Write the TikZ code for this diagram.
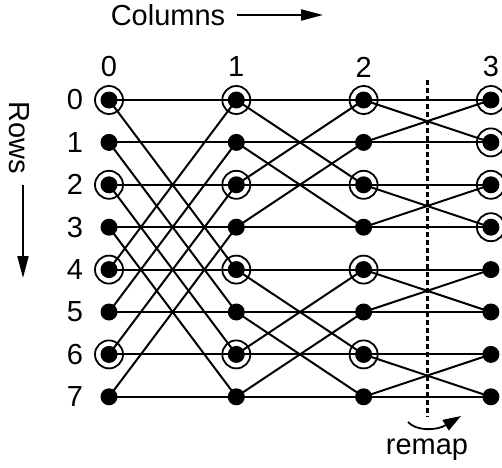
\documentclass[tikz,border=0pt]{standalone}
\usepackage{fontspec}
\setmainfont{Liberation Sans}
\usetikzlibrary{arrows.meta,backgrounds}
\begin{document}
\begin{tikzpicture}[x=1pt,y=1pt,
  dotnode/.style={circle,fill=black,inner sep=0pt,minimum size=17pt},
  ringnode/.style={circle,draw=black,line width=1.8pt,inner sep=0pt,minimum size=28pt,
    path picture={\fill[black] (path picture bounding box.center) circle (8.5pt);}},
  wire/.style={line width=2pt},
  lbl/.style={font=\fontsize{29}{29}\selectfont,inner sep=0pt},
  arr/.style={line width=2pt,-{Triangle[length=22pt,width=11pt]}}]
\useasboundingbox (0,0) rectangle (502,467);
\clip (0,0) rectangle (502,467);
% nodes
\foreach \c in {0,...,3}{
  \foreach \r in {0,...,7}{
    \pgfmathtruncatemacro\isring{ifthenelse(\c<3, mod(\r,2)==0, \r<4)}
    \ifnum\isring=1
      \node[ringnode] (n\c\r) at ({109+127.3*\c},{367-42.4*\r}) {};
    \else
      \node[dotnode] (n\c\r) at ({109+127.3*\c},{367-42.4*\r}) {};
    \fi
  }
}
% wires
\begin{pgfonlayer}{background}
\foreach \c/\d/\s in {0/1/4,1/2/2,2/3/1}{
  \foreach \r in {0,...,7}{
    \pgfmathtruncatemacro\p{mod(floor(\r/\s),2)==0 ? \r+\s : \r-\s}
    \draw[wire] (n\c\r.center) -- (n\d\r.center);
    \draw[wire] (n\c\r.center) -- (n\d\p.center);
  }
}
\end{pgfonlayer}
% column and row numbers
\foreach \c in {0,...,3}{
  \node[lbl] (cl\c) at ({109+127.3*\c},400) {\c};
}
\foreach \r in {0,...,7}{
  \node[lbl] (rl\r) at (75,{367-42.4*\r}) {\r};
}
% Columns arrow
\node[lbl] (colslbl) at (168,452) {Columns};
\coordinate (cA) at (237,452);
\coordinate (cB) at (323,452);
\draw[arr] (cA) -- (cB);
% Rows arrow
\node[lbl,rotate=-90] (rowslbl) at (19,329) {Rows};
\coordinate (rA) at (23,282);
\coordinate (rB) at (23,189);
\draw[arr] (rA) -- (rB);
% remap
\coordinate (dTop) at (427,387);
\coordinate (dBot) at (427,50);
\draw[line width=3pt,dash pattern=on 4.5pt off 3.5pt] (dTop) -- (dBot);
\coordinate (mA) at (408,45);
\coordinate (mB) at (461,51);
\draw[line width=1.8pt,-{Triangle[length=18pt,width=12pt]}] (mA) .. controls (416,36) and (436,36) .. (mB);
\node[lbl] (remap) at (427,17) {remap};
\end{tikzpicture}
\end{document}
